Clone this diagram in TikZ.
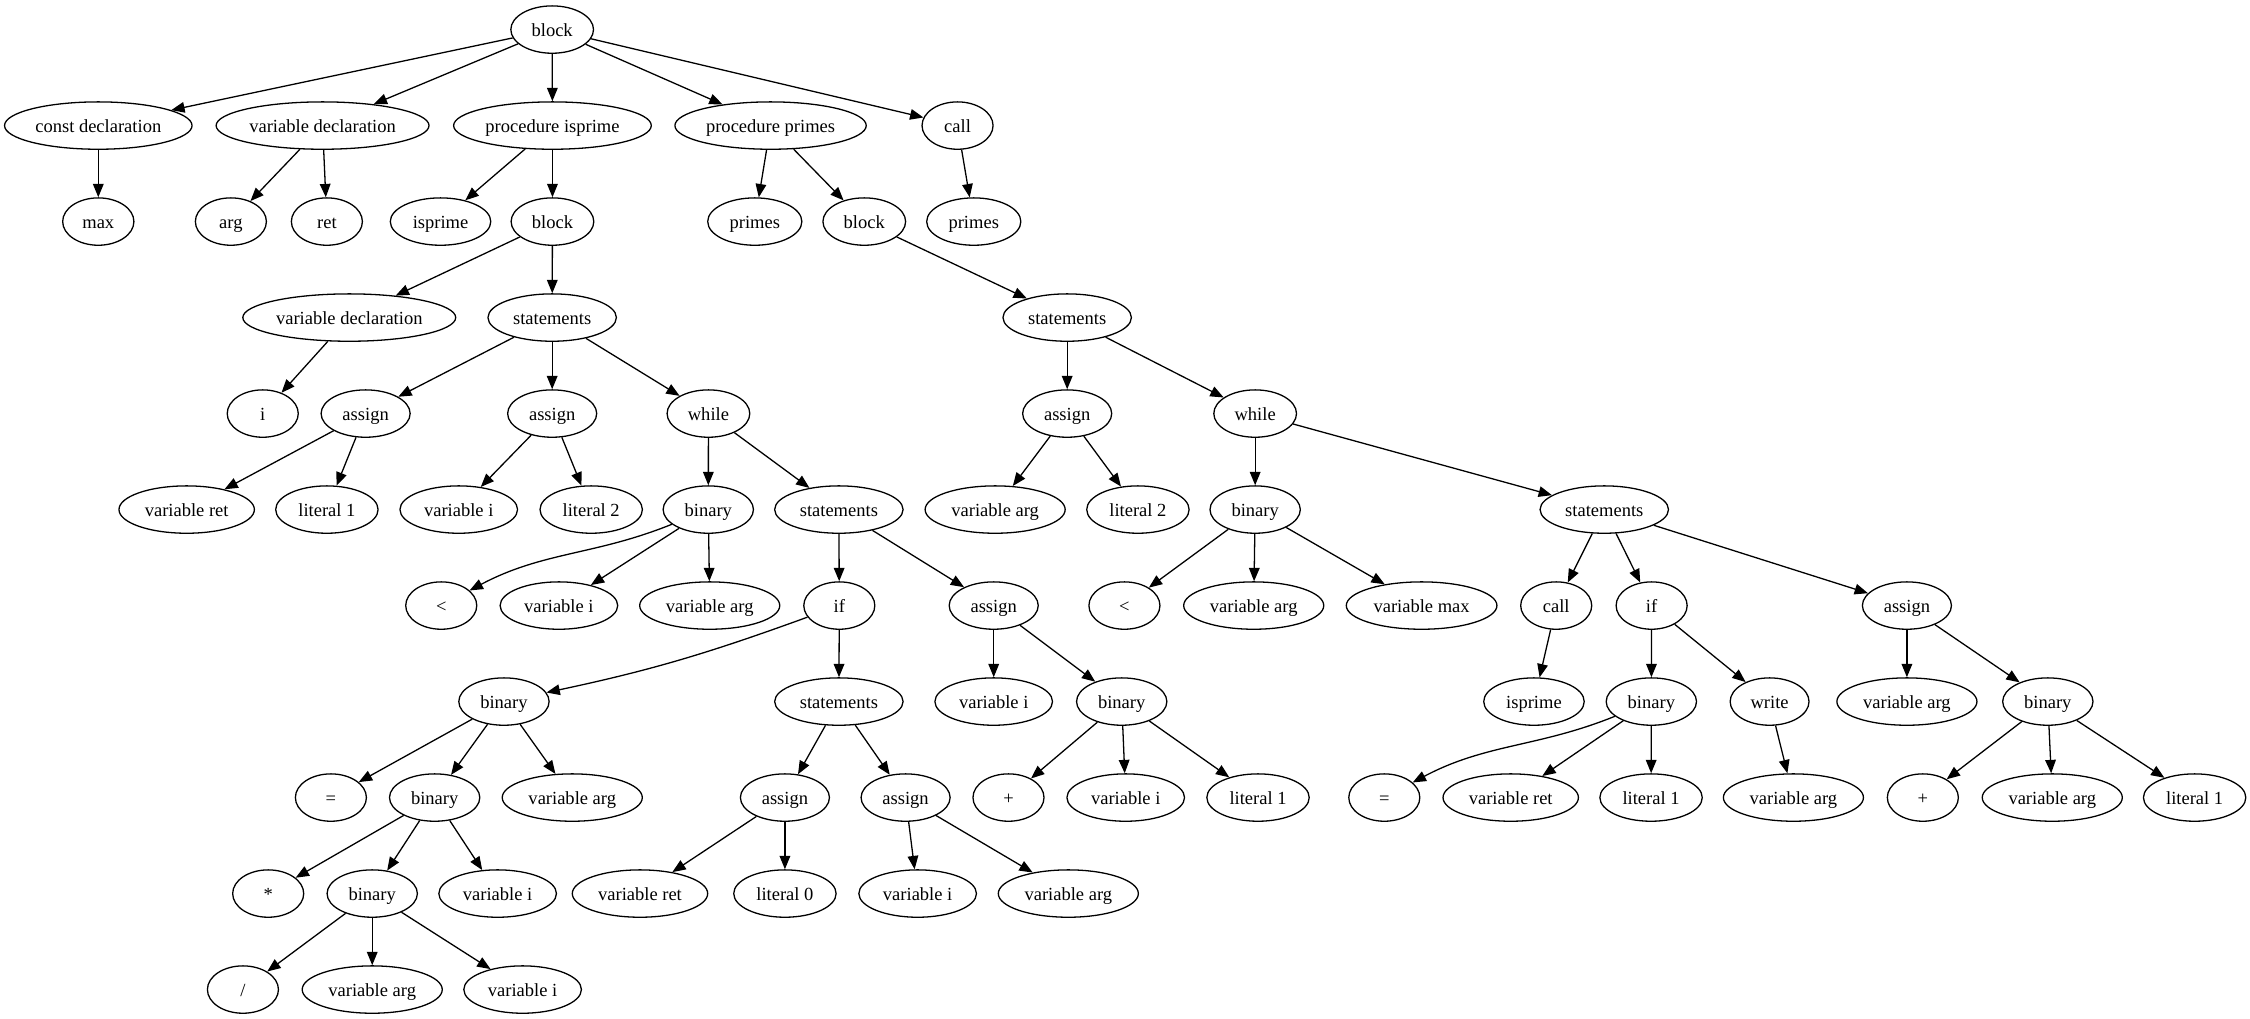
\documentclass[tikz,border=0pt]{standalone}
\usepackage{fontspec}
\setmainfont{Liberation Serif}
\usetikzlibrary{arrows.meta,shapes.geometric}
\newcommand\gvl[1]{\setbox0\hbox{#1}\hbox to 0.874\wd0{\hss\box0\hss}}
\begin{document}
\begin{tikzpicture}[x=1pt,y=-1pt,
  gv/.style={draw, ellipse, line width=0.9pt, minimum width=49.5pt, minimum height=33pt,
    inner xsep=7.85pt, inner ysep=0pt, text height=11pt, text depth=2pt,
    font=\fontsize{12.9pt}{15pt}\selectfont},
  ed/.style={line width=0.9pt, -{Triangle[length=9.3pt,width=7.4pt]}}]
\useasboundingbox (0,0) rectangle (1568,710);
% row 0
\node[gv] (b0) at (384.8,20.6) {\gvl{block}};
% row 1
\node[gv] (cd) at (68.5,87.5) {\gvl{const declaration}};
\node[gv] (vd) at (224.8,87.5) {\gvl{variable declaration}};
\node[gv] (pi) at (385,87.5) {\gvl{procedure isprime}};
\node[gv] (pp) at (537,87.5) {\gvl{procedure primes}};
\node[gv] (callA) at (667.3,87.5) {\gvl{call}};
% row 2
\node[gv] (max) at (68.5,154.4) {\gvl{max}};
\node[gv] (arg) at (160.9,154.4) {\gvl{arg}};
\node[gv] (ret) at (227.8,154.4) {\gvl{ret}};
\node[gv] (isp) at (307,154.4) {\gvl{isprime}};
\node[gv] (blkA) at (385,154.4) {\gvl{block}};
\node[gv] (prm) at (526,154.4) {\gvl{primes}};
\node[gv] (blkB) at (602.3,154.4) {\gvl{block}};
\node[gv] (prmB) at (678.6,154.4) {\gvl{primes}};
% row 3
\node[gv] (vdB) at (243.4,221.3) {\gvl{variable declaration}};
\node[gv] (stA) at (384.8,221.3) {\gvl{statements}};
\node[gv] (stB) at (743.7,221.3) {\gvl{statements}};
% row 4
\node[gv] (ii) at (183.1,288.2) {\gvl{i}};
\node[gv] (asA) at (254.8,288.2) {\gvl{assign}};
\node[gv] (asB) at (384.8,288.2) {\gvl{assign}};
\node[gv] (whA) at (493.7,288.2) {\gvl{while}};
\node[gv] (asC) at (743.7,288.2) {\gvl{assign}};
\node[gv] (whB) at (874.7,288.2) {\gvl{while}};
% row 5
\node[gv] (vrA) at (130.1,355.1) {\gvl{variable ret}};
\node[gv] (lOneA) at (227.8,355.1) {\gvl{literal 1}};
\node[gv] (viA) at (319.7,355.1) {\gvl{variable i}};
\node[gv] (lTwoA) at (412,355.1) {\gvl{literal 2}};
\node[gv] (binA) at (493.6,355.1) {\gvl{binary}};
\node[gv] (stC) at (584.6,355.1) {\gvl{statements}};
\node[gv] (vaA) at (693.5,355.1) {\gvl{variable arg}};
\node[gv] (lTwoB) at (793,355.1) {\gvl{literal 2}};
\node[gv] (binB) at (874.7,355.1) {\gvl{binary}};
\node[gv] (stD) at (1118,355.1) {\gvl{statements}};
% row 6
\node[gv] (ltA) at (307.5,422) {\gvl{<}};
\node[gv] (viB) at (389.5,422) {\gvl{variable i}};
\node[gv] (vaB) at (494.6,422) {\gvl{variable arg}};
\node[gv] (ifA) at (584.9,422) {\gvl{if}};
\node[gv] (asD) at (692.5,422) {\gvl{assign}};
\node[gv] (ltB) at (783.6,422) {\gvl{<}};
\node[gv] (vaC) at (873.7,422) {\gvl{variable arg}};
\node[gv] (vm) at (990.7,422) {\gvl{variable max}};
\node[gv] (callB) at (1084.5,422) {\gvl{call}};
\node[gv] (ifB) at (1151,422) {\gvl{if}};
\node[gv] (asE) at (1328.9,422) {\gvl{assign}};
% row 7
\node[gv] (binC) at (351.2,488.9) {\gvl{binary}};
\node[gv] (stE) at (584.6,488.9) {\gvl{statements}};
\node[gv] (viC) at (692.5,488.9) {\gvl{variable i}};
\node[gv] (binD) at (781.7,488.9) {\gvl{binary}};
\node[gv] (ispB) at (1069,488.9) {\gvl{isprime}};
\node[gv] (binE) at (1150.8,488.9) {\gvl{binary}};
\node[gv] (wr) at (1233.2,488.9) {\gvl{write}};
\node[gv] (vaD) at (1328.9,488.9) {\gvl{variable arg}};
\node[gv] (binF) at (1427.1,488.9) {\gvl{binary}};
% row 8
\node[gv] (eqA) at (230.6,555.8) {\gvl{=}};
\node[gv] (binG) at (302.9,555.8) {\gvl{binary}};
\node[gv] (vaE) at (398.8,555.8) {\gvl{variable arg}};
\node[gv] (asF) at (547,555.8) {\gvl{assign}};
\node[gv] (asG) at (631.1,555.8) {\gvl{assign}};
\node[gv] (plA) at (702.8,555.8) {\gvl{+}};
\node[gv] (viD) at (784.5,555.8) {\gvl{variable i}};
\node[gv] (lOneB) at (876.7,555.8) {\gvl{literal 1}};
\node[gv] (eqB) at (964.7,555.8) {\gvl{=}};
\node[gv] (vrB) at (1052.8,555.8) {\gvl{variable ret}};
\node[gv] (lOneC) at (1150.6,555.8) {\gvl{literal 1}};
\node[gv] (vaF) at (1249.8,555.8) {\gvl{variable arg}};
\node[gv] (plB) at (1340,555.8) {\gvl{+}};
\node[gv] (vaG) at (1430.2,555.8) {\gvl{variable arg}};
\node[gv] (lOneD) at (1529.4,555.8) {\gvl{literal 1}};
% row 9
\node[gv] (ast) at (186.9,622.7) {\gvl{*}};
\node[gv] (binH) at (259.4,622.7) {\gvl{binary}};
\node[gv] (viE) at (346.8,622.7) {\gvl{variable i}};
\node[gv] (vrC) at (446,622.7) {\gvl{variable ret}};
\node[gv] (lZero) at (547,622.7) {\gvl{literal 0}};
\node[gv] (viF) at (639.5,622.7) {\gvl{variable i}};
\node[gv] (vaH) at (744.5,622.7) {\gvl{variable arg}};
% row 10
\node[gv] (sl) at (169.3,689.6) {\gvl{/}};
\node[gv] (vaI) at (259.4,689.6) {\gvl{variable arg}};
\node[gv] (viG) at (364.2,689.6) {\gvl{variable i}};
% edges
\draw[ed] (b0) -- (cd);
\draw[ed] (b0) -- (vd);
\draw[ed] (b0) -- (pi);
\draw[ed] (b0) -- (pp);
\draw[ed] (b0) -- (callA);
\draw[ed] (cd) -- (max);
\draw[ed] (vd) -- (arg);
\draw[ed] (vd) -- (ret);
\draw[ed] (pi) -- (isp);
\draw[ed] (pi) -- (blkA);
\draw[ed] (pp) -- (prm);
\draw[ed] (pp) -- (blkB);
\draw[ed] (callA) -- (prmB);
\draw[ed] (blkA) -- (vdB);
\draw[ed] (blkA) -- (stA);
\draw[ed] (vdB) -- (ii);
\draw[ed] (stA) -- (asA);
\draw[ed] (stA) -- (asB);
\draw[ed] (stA) -- (whA);
\draw[ed] (asA) -- (vrA);
\draw[ed] (asA) -- (lOneA);
\draw[ed] (asB) -- (viA);
\draw[ed] (asB) -- (lTwoA);
\draw[ed] (whA) -- (binA);
\draw[ed] (whA) -- (stC);
\draw[ed] (binA) to[out=202,in=28] (ltA);
\draw[ed] (binA) -- (viB);
\draw[ed] (binA) -- (vaB);
\draw[ed] (stC) -- (ifA);
\draw[ed] (stC) -- (asD);
\draw[ed] (ifA) to[out=200,in=12] (binC);
\draw[ed] (ifA) -- (stE);
\draw[ed] (binC) -- (eqA);
\draw[ed] (binC) -- (binG);
\draw[ed] (binC) -- (vaE);
\draw[ed] (binG) -- (ast);
\draw[ed] (binG) -- (binH);
\draw[ed] (binG) -- (viE);
\draw[ed] (binH) -- (sl);
\draw[ed] (binH) -- (vaI);
\draw[ed] (binH) -- (viG);
\draw[ed] (stE) -- (asF);
\draw[ed] (stE) -- (asG);
\draw[ed] (asF) -- (vrC);
\draw[ed] (asF) -- (lZero);
\draw[ed] (asG) -- (viF);
\draw[ed] (asG) -- (vaH);
\draw[ed] (asD) -- (viC);
\draw[ed] (asD) -- (binD);
\draw[ed] (binD) -- (plA);
\draw[ed] (binD) -- (viD);
\draw[ed] (binD) -- (lOneB);
\draw[ed] (blkB) -- (stB);
\draw[ed] (stB) -- (asC);
\draw[ed] (stB) -- (whB);
\draw[ed] (asC) -- (vaA);
\draw[ed] (asC) -- (lTwoB);
\draw[ed] (whB) -- (binB);
\draw[ed] (whB) -- (stD);
\draw[ed] (binB) -- (ltB);
\draw[ed] (binB) -- (vaC);
\draw[ed] (binB) -- (vm);
\draw[ed] (stD) -- (callB);
\draw[ed] (stD) -- (ifB);
\draw[ed] (stD) -- (asE);
\draw[ed] (callB) -- (ispB);
\draw[ed] (ifB) -- (binE);
\draw[ed] (ifB) -- (wr);
\draw[ed] (binE) to[out=202,in=28] (eqB);
\draw[ed] (binE) -- (vrB);
\draw[ed] (binE) -- (lOneC);
\draw[ed] (wr) -- (vaF);
\draw[ed] (asE) -- (vaD);
\draw[ed] (asE) -- (binF);
\draw[ed] (binF) -- (plB);
\draw[ed] (binF) -- (vaG);
\draw[ed] (binF) -- (lOneD);
\end{tikzpicture}
\end{document}
